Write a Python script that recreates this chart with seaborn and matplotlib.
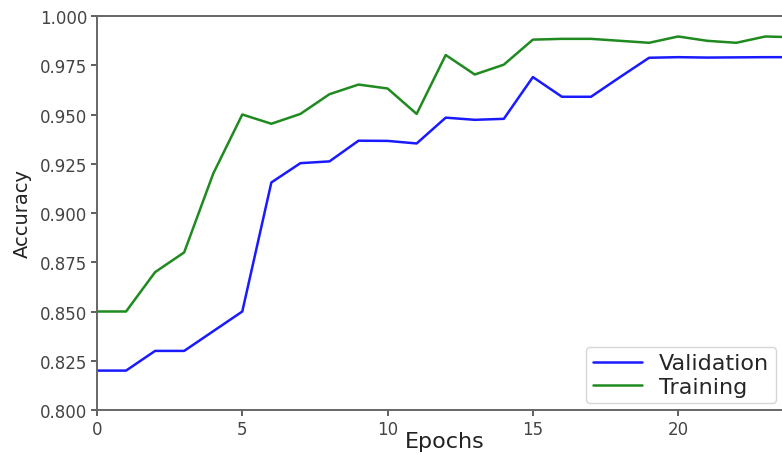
import matplotlib
matplotlib.use("Agg")
import matplotlib.pyplot as plt
import seaborn as sns
import pandas as pd

epochs = list(range(25))
validation = [0.820, 0.820, 0.830, 0.830, 0.840, 0.850, 0.9155, 0.9253, 0.9262, 0.9367,
              0.9366, 0.9353, 0.9484, 0.9473, 0.9478, 0.9690, 0.9590, 0.9590, 0.9690, 0.9788,
              0.9791, 0.9789, 0.9790, 0.9791, 0.9791]
training = [0.850, 0.850, 0.870, 0.880, 0.920, 0.950, 0.9453, 0.9503, 0.9603, 0.9652,
            0.9632, 0.9503, 0.9802, 0.9703, 0.9753, 0.9880, 0.9884, 0.9884, 0.9874, 0.9864,
            0.9896, 0.9874, 0.9864, 0.9896, 0.9892]
yticks = [0.8, 0.825, 0.85, 0.875, 0.9, 0.925, 0.95, 0.975, 1.0]

df = pd.concat([
    pd.DataFrame({"Epochs": epochs, "Accuracy": validation, "Series": "Validation"}),
    pd.DataFrame({"Epochs": epochs, "Accuracy": training, "Series": "Training"}),
])

sns.set_style("ticks")
plt.rcParams['font.family'] = ['DejaVu Sans']

fig = plt.figure(figsize=(7.82, 4.56), dpi=100)
ax = fig.add_axes([97/782, 1 - 411/456, 1 - 97/782 + 0.001, (411 - 17)/456])

sns.lineplot(data=df, x="Epochs", y="Accuracy", hue="Series",
             palette={"Validation": "#1a1aff", "Training": "#1f8a1f"},
             linewidth=1.8, ax=ax)

ax.set_xlim(0, 23.6)
ax.set_ylim(0.8, 1.0)
ax.set_xticks([0, 5, 10, 15, 20])
ax.set_yticks(yticks)
ax.set_yticklabels([f"{v:.3f}" for v in yticks])
ax.tick_params(axis="both", labelsize=12, colors="#444444", length=4, width=1.2, pad=3)
for s in ["left", "top", "bottom"]:
    ax.spines[s].set_color("#666666")
    ax.spines[s].set_linewidth(1.4)
ax.spines["right"].set_visible(False)

ax.set_xlabel("Epochs", fontsize=16, color="#222222")
ax.xaxis.set_label_coords((445 - 97) / (782 - 97 + 1), -(432 - 411) / 394)
ax.set_ylabel("Accuracy", fontsize=14, color="#222222", labelpad=6)

leg = ax.legend(loc="lower right", fontsize=16, frameon=True, borderaxespad=0.3,
                handlelength=2.2, labelspacing=0.15, borderpad=0.3)
leg.get_frame().set_edgecolor("#cccccc")

fig.savefig("out.png", dpi=100)
